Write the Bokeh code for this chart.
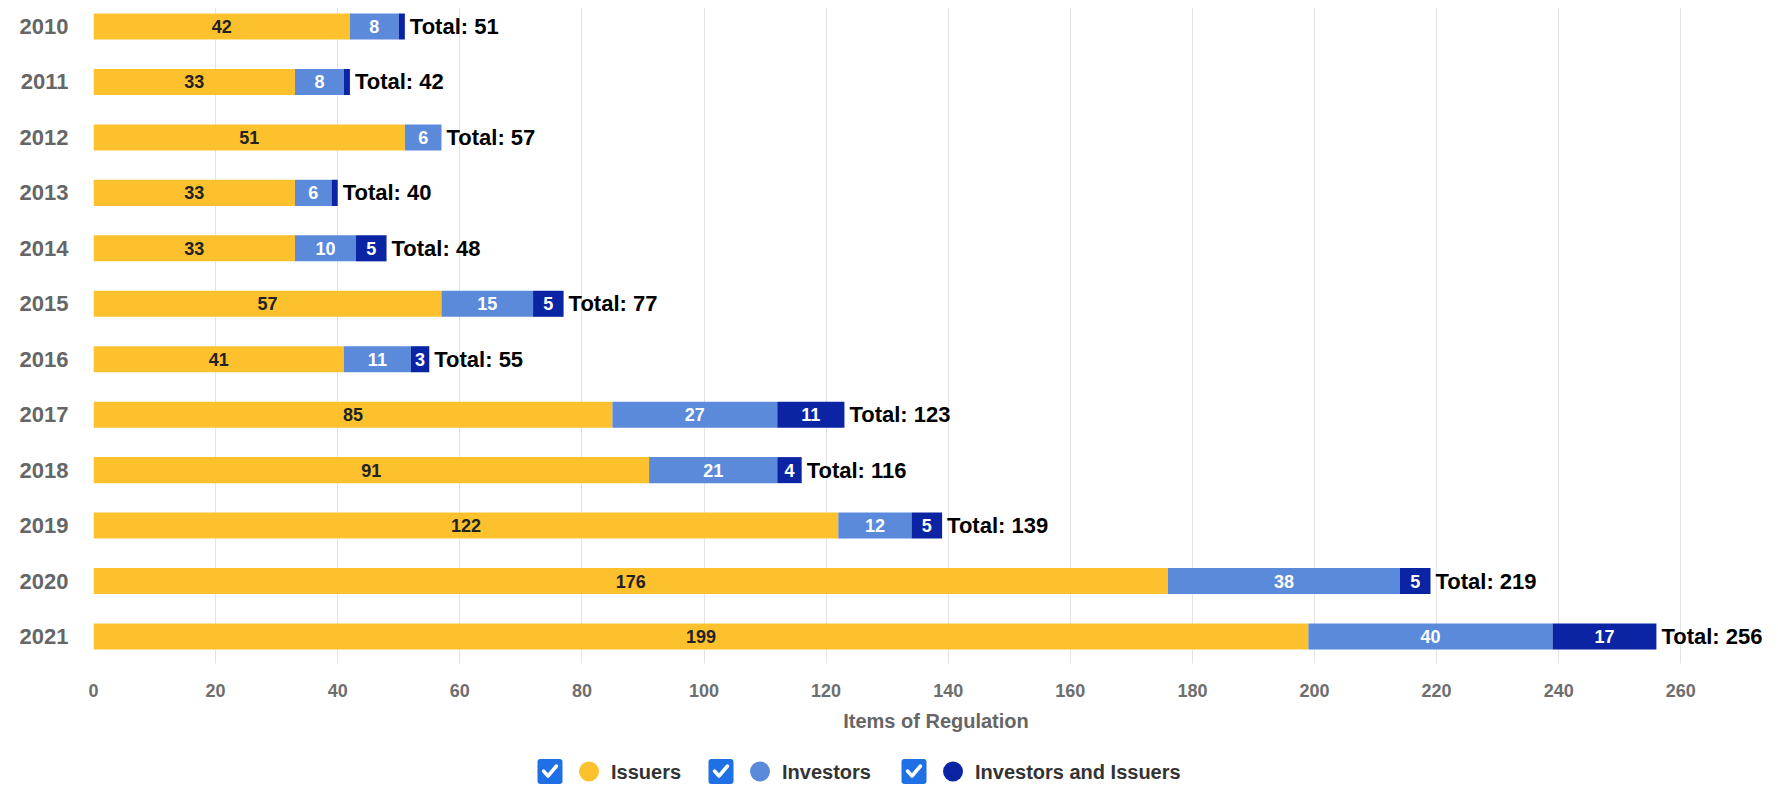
from bokeh.plotting import figure
from bokeh.models import Range1d, FixedTicker, ColumnDataSource
from bokeh.layouts import column
from bokeh.embed import file_html
from bokeh.resources import INLINE
from bokeh.core.properties import value

# ---------------- data ----------------
years = ["2010", "2011", "2012", "2013", "2014", "2015",
         "2016", "2017", "2018", "2019", "2020", "2021"]
issuers = [42, 33, 51, 33, 33, 57, 41, 85, 91, 122, 176, 199]
investors = [8, 8, 6, 6, 10, 15, 11, 27, 21, 12, 38, 40]
investors_and_issuers = [1, 1, 0, 1, 5, 5, 3, 11, 4, 5, 5, 17]
series_names = ["Issuers", "Investors", "Investors and Issuers"]
x_tick_values = list(range(0, 261, 20))
axis_title = "Items of Regulation"

# ---------------- styles ----------------
FONT = "Liberation Sans"
series_colors = ["#FEC12E", "#5B8ADB", "#0A24A3"]
label_colors = ["#222222", "#ffffff", "#ffffff"]
checkbox_color = "#1F6FE5"

series_values = [issuers, investors, investors_and_issuers]
n = len(years)
ypos = [n - 1 - i for i in range(n)]

W = 1778
FRAME_LEFT = 93
MAIN_H = 743
LEG_H = 42

p = figure(width=W, height=MAIN_H, output_backend="svg", toolbar_location=None,
           x_range=Range1d(0, 276), y_range=Range1d(-0.487, 11.343),
           min_border_left=FRAME_LEFT, min_border_right=0, min_border_top=7,
           min_border_bottom=80)
p.outline_line_color = None
p.background_fill_color = "white"
p.border_fill_color = "white"

left = [0] * n
for name, vals, col, lcol in zip(series_names, series_values, series_colors, label_colors):
    right = [l + v for l, v in zip(left, vals)]
    src = ColumnDataSource(dict(y=ypos, left=left, right=right))
    p.hbar(y="y", left="left", right="right", height=0.47, source=src,
           fill_color=col, line_color=None)
    lx, ly, lt = [], [], []
    for l, r, v, y in zip(left, right, vals, ypos):
        if v > 1:
            lx.append((l + r) / 2)
            ly.append(y)
            lt.append(str(v))
    lsrc = ColumnDataSource(dict(x=lx, y=ly, t=lt))
    p.text(x="x", y="y", text="t", source=lsrc, text_align="center",
           text_baseline="middle", text_color=lcol, text_font=value(FONT),
           text_font_size="18px", text_font_style="bold")
    left = right

totals = left
tsrc = ColumnDataSource(dict(x=totals, y=ypos, t=[f"Total: {t}" for t in totals]))
p.text(x="x", y="y", text="t", source=tsrc, x_offset=5, text_align="left",
       text_baseline="middle", text_color="#000000", text_font=value(FONT),
       text_font_size="22px", text_font_style="bold")

# axes
p.yaxis.ticker = FixedTicker(ticks=ypos)
p.yaxis.major_label_overrides = {y: yr for y, yr in zip(ypos, years)}
p.yaxis.axis_line_color = None
p.yaxis.major_tick_line_color = None
p.yaxis.minor_tick_line_color = None
p.yaxis.major_label_standoff = 19
p.yaxis.major_label_text_font = FONT
p.yaxis.major_label_text_font_size = "22px"
p.yaxis.major_label_text_font_style = "bold"
p.yaxis.major_label_text_color = "#666666"

p.xaxis.ticker = FixedTicker(ticks=x_tick_values)
p.xaxis.axis_line_color = None
p.xaxis.major_tick_line_color = None
p.xaxis.minor_tick_line_color = None
p.xaxis.major_label_standoff = 14
p.xaxis.major_label_text_font = FONT
p.xaxis.major_label_text_font_size = "18px"
p.xaxis.major_label_text_font_style = "bold"
p.xaxis.major_label_text_color = "#6e6e6e"
p.xaxis.axis_label = axis_title
p.xaxis.axis_label_standoff = 10
p.xaxis.axis_label_text_font = FONT
p.xaxis.axis_label_text_font_size = "20px"
p.xaxis.axis_label_text_font_style = "bold"
p.xaxis.axis_label_text_color = "#666666"

p.ygrid.grid_line_color = None
p.xgrid.ticker = FixedTicker(ticks=x_tick_values)
p.xgrid.grid_line_color = "#e3e3e3"
p.xgrid.grid_line_width = 1

# ---------------- legend (separate strip, page-pixel coordinates) ----------------
leg = figure(width=W, height=LEG_H, output_backend="svg", toolbar_location=None,
             x_range=Range1d(FRAME_LEFT, W), y_range=Range1d(0, LEG_H),
             x_axis_type=None, y_axis_type=None,
             min_border_left=FRAME_LEFT, min_border_right=0, min_border_top=0,
             min_border_bottom=0)
leg.outline_line_color = None
leg.xgrid.grid_line_color = None
leg.ygrid.grid_line_color = None

item_starts = [549.5, 720.5, 913.5]   # layout positions of the legend items (px)
cy = 14
cb_x = item_starts
circ_x = [s + 39 for s in item_starts]
txt_x = [s + 61 for s in item_starts]

leg.rect(x=cb_x, y=[cy] * 3, width=25, height=25, fill_color=checkbox_color,
         line_color=None, border_radius=3)
leg.multi_line(xs=[[s - 6.5, s - 2, s + 6.5] for s in cb_x],
               ys=[[cy + 0.5, cy - 4.5, cy + 5.5] for _ in cb_x],
               line_color="white", line_width=3.5, line_cap="round", line_join="round")
leg.scatter(x=circ_x, y=[cy] * 3, size=20, marker="circle",
            fill_color=series_colors, line_color=None)
leg.text(x=txt_x, y=[cy] * 3, text=series_names, text_align="left",
         text_baseline="middle", text_color="#333333", text_font=value(FONT),
         text_font_size="20px", text_font_style="bold")

layout = column(p, leg, spacing=0)
open("out.html", "w").write(file_html(layout, INLINE))
